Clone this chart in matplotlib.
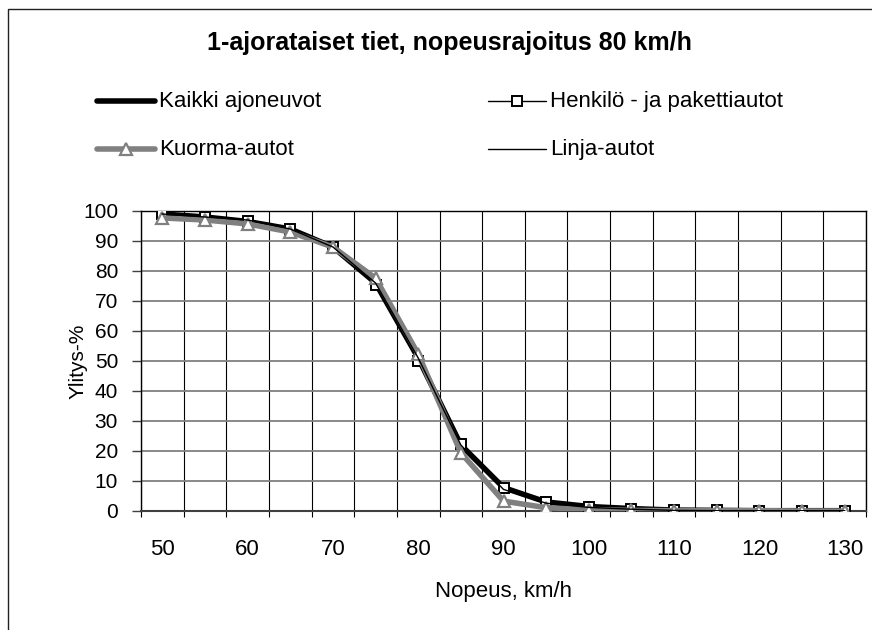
# -*- coding: utf-8 -*-
import numpy as np
import matplotlib
matplotlib.use('Agg')
from matplotlib import pyplot as plt
from matplotlib.lines import Line2D
from matplotlib.patches import Rectangle

# Speed categories (km/h) and share of vehicles exceeding each speed (%)
speeds = [50, 55, 60, 65, 70, 75, 80, 85, 90, 95, 100, 105, 110, 115, 120, 125, 130]
kaikki = [99, 98, 96.5, 94, 88, 76, 51, 22, 7.8, 3, 1.5, 0.8, 0.3, 0.2, 0.1, 0.1, 0.1]
henkilo = [99, 98, 96.7, 94, 88, 75.3, 50, 22.2, 7.6, 3.1, 1.4, 0.8, 0.3, 0.2, 0.1, 0.1, 0.1]
kuorma = [97.7, 97, 95.7, 93, 88, 77.6, 52.3, 19.4, 3.3, 1.1, 0.5, 0.2, 0.1, 0.1, 0.1, 0, 0]
linja = [99, 98, 97, 94, 88, 76, 51, 22, 7.2, 2.6, 1.2, 0.6, 0.2, 0.1, 0.1, 0.1, 0.1]

labels = ['Kaikki ajoneuvot', 'Henkilö - ja pakettiautot', 'Kuorma-autot', 'Linja-autot']
title = '1-ajorataiset tiet, nopeusrajoitus 80 km/h'

plt.rcParams['font.family'] = ['Liberation Sans', 'DejaVu Sans']
fs = 16

W, H = 872, 630
fig = plt.figure(figsize=(W / 100., H / 100.), dpi=100, facecolor='w')

# plot area in pixels
left, right, top, bottom = 141, 866, 211, 511
ax = fig.add_axes([left / W, 1 - bottom / H, (right - left) / W, (bottom - top) / H])

gray = '#808080'
styles = [
    dict(color='k', lw=4.0, zorder=3),
    dict(color='k', lw=1.0, marker='s', ms=7.5, mfc='w', mec='k', mew=1.4, zorder=4),
    dict(color=gray, lw=4.0, marker='^', ms=8.5, mfc='w', mec=gray, mew=1.6, zorder=5),
    dict(color='k', lw=1.0, zorder=6),
]
series = [kaikki, henkilo, kuorma, linja]

x = np.arange(len(speeds))
for vals, st in zip(series, styles):
    ax.plot(x, vals, solid_joinstyle='round', **st)

ax.set_xlim(-0.5, len(speeds) - 0.5)
ax.set_ylim(0, 100)
ax.set_yticks(np.arange(0, 101, 10))
ax.set_xticks(x[::2])
ax.set_xticklabels([str(s) for s in speeds[::2]])
ax.set_xticks(np.arange(len(speeds) + 1) - 0.5, minor=True)

ax.tick_params(axis='x', which='major', length=0, pad=20, labelsize=fs)
ax.tick_params(axis='x', which='minor', length=4.5, width=0.8, direction='out', color='k')
ax.tick_params(axis='y', length=6.5, width=1.0, color='#404040', pad=10, labelsize=15)

ax.grid(axis='y', which='major', color=gray, lw=1.3, zorder=1)
ax.grid(axis='x', which='minor', color='k', lw=0.8, zorder=1)
ax.set_axisbelow(True)
for sp in ax.spines.values():
    sp.set_color('k')
    sp.set_linewidth(1.0)
ax.spines['bottom'].set_color('#404040')
ax.spines['bottom'].set_linewidth(1.5)

ax.set_xlabel('Nopeus, km/h', fontsize=fs)
ax.xaxis.set_label_coords(0.5, (bottom - 592) / (bottom - top))
ax.xaxis.label.set_va('center')
ax.set_ylabel('Ylitys-%', fontsize=15)
ax.yaxis.set_label_coords((78 - left) / (right - left), 0.5)
ax.yaxis.label.set_va('center')

fig.text(449 / W, 1 - 43 / H, title, ha='center', va='center',
         fontsize=18, fontweight='bold')

# legend, placed by hand in pixel positions
leg_pos = [(97, 101), (488, 101), (97, 149), (488, 149)]
for (lx, ly), lab, st in zip(leg_pos, labels, styles):
    y = H - ly
    xs = [lx / W, (lx + 29) / W, (lx + 58) / W]
    ys = [y / H] * 3
    ln = Line2D(xs, ys, transform=fig.transFigure, markevery=[1],
                solid_capstyle='round', **st)
    fig.add_artist(ln)
    fig.text((lx + 62) / W, y / H, lab, ha='left', va='center', fontsize=fs)

# outer chart frame
fig.add_artist(Rectangle((8 / W, -0.1), 1.2, 1.1 - 9 / H, transform=fig.transFigure,
                         fill=False, edgecolor='#202020', lw=1.0))

fig.savefig('out.png', dpi=100)
